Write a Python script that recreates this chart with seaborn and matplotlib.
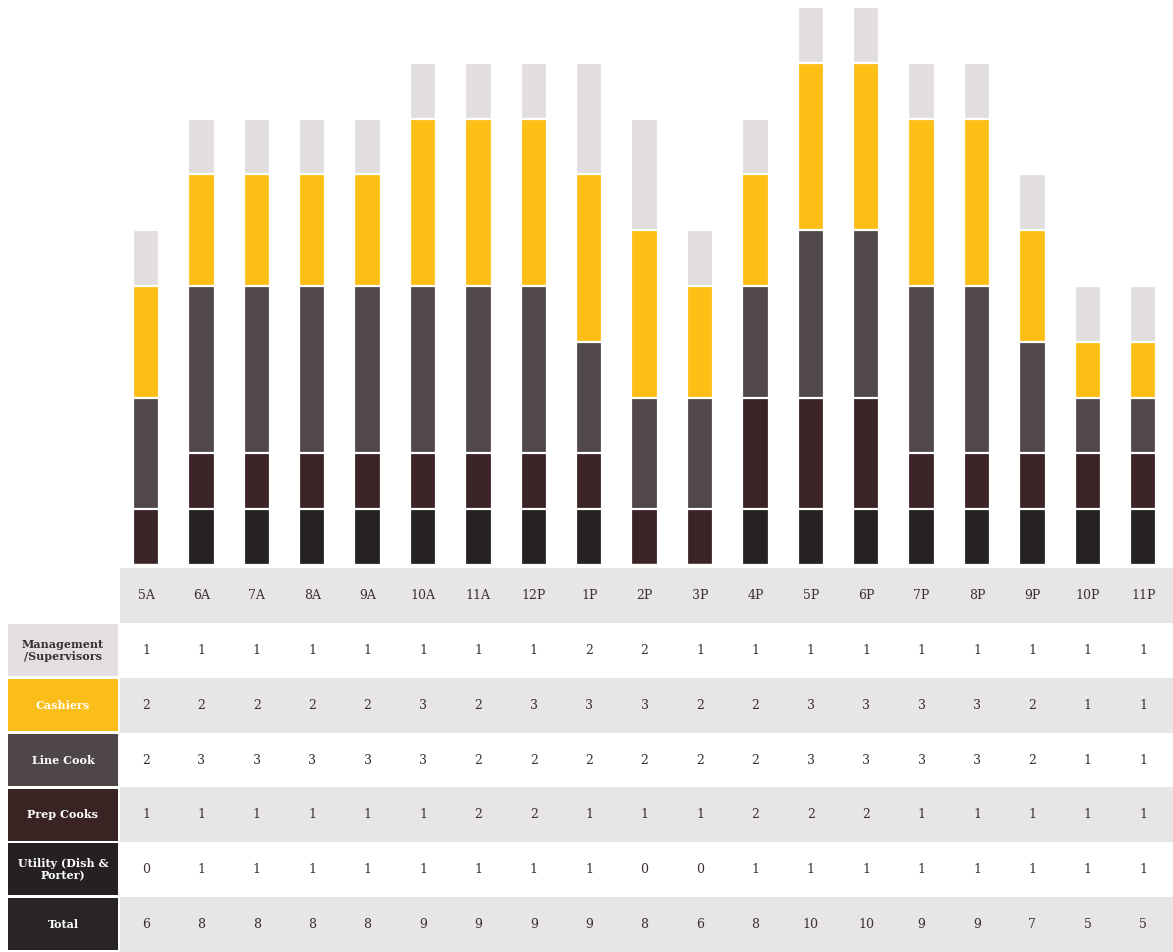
import pandas as pd
import seaborn as sns
import matplotlib.pyplot as plt

# hours of the day
hours = ['5A', '6A', '7A', '8A', '9A', '10A', '11A', '12P', '1P', '2P',
         '3P', '4P', '5P', '6P', '7P', '8P', '9P', '10P', '11P']

# table values (as printed)
mgmt = [1, 1, 1, 1, 1, 1, 1, 1, 2, 2, 1, 1, 1, 1, 1, 1, 1, 1, 1]
cashiers = [2, 2, 2, 2, 2, 3, 2, 3, 3, 3, 2, 2, 3, 3, 3, 3, 2, 1, 1]
line_cook = [2, 3, 3, 3, 3, 3, 2, 2, 2, 2, 2, 2, 3, 3, 3, 3, 2, 1, 1]
prep = [1, 1, 1, 1, 1, 1, 2, 2, 1, 1, 1, 2, 2, 2, 1, 1, 1, 1, 1]
utility = [0, 1, 1, 1, 1, 1, 1, 1, 1, 0, 0, 1, 1, 1, 1, 1, 1, 1, 1]
total = [6, 8, 8, 8, 8, 9, 9, 9, 9, 8, 6, 8, 10, 10, 9, 9, 7, 5, 5]

# bars as drawn (11A and 12P differ from the printed table)
bar_cashiers = [2, 2, 2, 2, 2, 3, 3, 3, 3, 3, 2, 2, 3, 3, 3, 3, 2, 1, 1]
bar_line_cook = [2, 3, 3, 3, 3, 3, 3, 3, 2, 2, 2, 2, 3, 3, 3, 3, 2, 1, 1]
bar_prep = [1, 1, 1, 1, 1, 1, 1, 1, 1, 1, 1, 2, 2, 2, 1, 1, 1, 1, 1]

row_labels = ['Management\n/Supervisors', 'Cashiers', 'Line Cook', 'Prep Cooks',
              'Utility (Dish &\nPorter)', 'Total']
row_colors = ['#e3dfe0', '#fbbd17', '#4f4647', '#3a2323', '#252021', '#282324']
row_text = ['#3a2e2e', 'white', 'white', 'white', 'white', 'white']
band_gray = '#e7e5e5'
num_color = '#3a3030'

W, H = 1173, 952
fig = plt.figure(figsize=(W / 100, H / 100), dpi=100)
sns.set_style('white')
plt.rcParams['font.family'] = ['DejaVu Serif']

step = 55.4      # px between columns
x0 = 146         # px centre of first column
unit = 55.8      # px per person

# ---- stacked bars ----
ax = fig.add_axes([120 / W, (H - 565) / H, (W - 120) / W, 565 / H])
df = pd.DataFrame({'hour': hours, 'util': utility, 'prep': bar_prep,
                   'line': bar_line_cook, 'cash': bar_cashiers, 'mgmt': mgmt})
layers = ['util', 'prep', 'line', 'cash', 'mgmt']
layer_colors = ['#262223', '#3b2425', '#514849', '#fdbe16', '#e2dedf']
cum = df[layers].cumsum(axis=1)
for col, c in reversed(list(zip(layers, layer_colors))):
    sns.barplot(x=df['hour'], y=cum[col], color=c, saturation=1, width=0.48,
                edgecolor='white', linewidth=1.6, ax=ax)
ax.set_xlim(-(x0 - 120) / step, 18 + (W - x0 - 18 * step) / step)
ax.set_ylim(0, 565 / unit)
ax.axis('off')

# ---- table ----
tx = fig.add_axes([0, 0, 1, (H - 568) / H])
left = -x0 / step
tx.set_xlim(left, left + W / step)
tx.set_ylim(7, 0)
tx.axis('off')
band_start = (120 - x0) / step
frac = (band_start - left) / (W / step)
for r in range(7):
    if r % 2 == 0:
        tx.axhspan(r, r + 1, xmin=frac, xmax=1, color=band_gray, lw=0)

for i, h in enumerate(hours):
    tx.text(i, 0.5, h, ha='center', va='center', fontsize=9, color=num_color)

box_l = (8 - x0) / step
box_r = (118 - x0) / step
rows = [mgmt, cashiers, line_cook, prep, utility, total]
for r, (lab, vals) in enumerate(zip(row_labels, rows), start=1):
    tx.add_patch(plt.Rectangle((box_l, r + 0.02), box_r - box_l, 0.95,
                               color=row_colors[r - 1], lw=0))
    tx.text((box_l + box_r) / 2, r + 0.5, lab, ha='center', va='center',
            fontsize=8, color=row_text[r - 1], fontweight='bold', linespacing=1.1)
    for i, v in enumerate(vals):
        tx.text(i, r + 0.5, str(v), ha='center', va='center', fontsize=9,
                color=num_color)

fig.savefig('out.png', dpi=100, facecolor='white')
